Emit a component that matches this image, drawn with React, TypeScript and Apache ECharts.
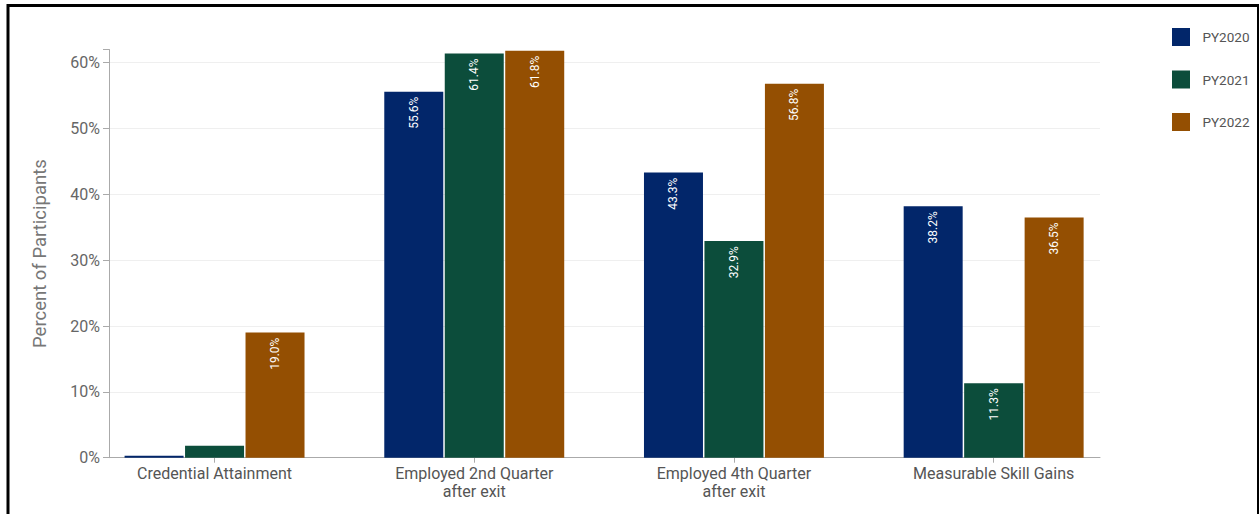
import React, { useEffect, useRef } from "react";
import * as echarts from "echarts";

const categories = [
  "Credential Attainment",
  "Employed 2nd Quarter\nafter exit",
  "Employed 4th Quarter\nafter exit",
  "Measurable Skill Gains",
];
const seriesNames = ["PY2020", "PY2021", "PY2022"];
const py2020 = [0.3, 55.6, 43.3, 38.2];
const py2021 = [1.8, 61.4, 32.9, 11.3];
const py2022 = [19.0, 61.8, 56.8, 36.5];
const colors = ["#02266A", "#0C4D3B", "#944F02"];
const yMax = 62;
const yInterval = 10;

const FONT = "Roboto, 'Noto Sans', sans-serif";

export default function App() {
  const ref = useRef<HTMLDivElement>(null);

  useEffect(() => {
    if (!ref.current) return;
    const chart = echarts.init(ref.current, undefined, { renderer: "svg" });
    const values = [py2020, py2021, py2022];
    const gridTop = 49.5;
    const gridBottom = 56.3;

    chart.setOption({
      animation: false,
      backgroundColor: "#ffffff",
      textStyle: { fontFamily: FONT },
      graphic: [
        {
          type: "rect",
          shape: { x: 8, y: 5.5, width: 1250.5, height: 530 },
          style: { fill: "none", stroke: "#000", lineWidth: 3 },
          silent: true,
          z: 100,
        },
      ],
      legend: {
        orient: "vertical",
        left: 1167,
        top: 23,
        itemWidth: 18,
        itemHeight: 18,
        itemGap: 24.5,
        icon: "rect",
        itemStyle: { borderWidth: 0 },
        textStyle: {
          color: "#555",
          fontSize: 13.5,
          fontFamily: FONT,
          padding: [0, 0, 0, 7.5],
        },
        data: seriesNames,
      },
      grid: [
        { left: 84.7, right: 135.5, top: gridTop, bottom: gridBottom },
        { left: 109, right: 159, top: gridTop, bottom: gridBottom },
      ],
      xAxis: [
        {
          type: "category",
          gridIndex: 0,
          data: categories,
          axisLine: { show: false },
          axisTick: {
            show: true,
            alignWithLabel: true,
            length: 5,
            lineStyle: { color: "#aaa" },
          },
          axisLabel: {
            color: "#555",
            fontSize: 16,
            lineHeight: 18,
            margin: 7,
            fontFamily: FONT,
            interval: 0,
          },
          splitLine: { show: false },
        },
        {
          type: "value",
          gridIndex: 1,
          min: 0,
          max: 1,
          axisLine: { show: true, onZero: false, lineStyle: { color: "#aaa" } },
          axisTick: { show: false },
          axisLabel: { show: false },
          splitLine: { show: false },
        },
      ],
      yAxis: [
        {
          type: "value",
          gridIndex: 0,
          min: 0,
          max: yMax,
          show: false,
          splitLine: { show: false },
        },
        {
          type: "value",
          gridIndex: 1,
          min: 0,
          max: yMax,
          interval: yInterval,
          name: "Percent of Participants",
          nameLocation: "middle",
          nameGap: 60,
          nameTextStyle: { color: "#777", fontSize: 18.5, fontFamily: FONT },
          axisLine: { show: true, lineStyle: { color: "#aaa" } },
          axisTick: { show: true, length: 6, lineStyle: { color: "#aaa" } },
          axisLabel: {
            color: "#666",
            fontSize: 16,
            margin: 9,
            fontFamily: FONT,
            formatter: (v: number) => (v % yInterval === 0 ? `${v}%` : ""),
          },
          splitLine: {
            show: true,
            showMaxLine: false,
            lineStyle: { color: "#efefef" },
          },
        },
      ],
      series: seriesNames.map((name, i) => ({
        name,
        type: "bar",
        xAxisIndex: 0,
        yAxisIndex: 0,
        data: values[i],
        barWidth: 59,
        barGap: "2.5%",
        itemStyle: { color: colors[i] },
        label: {
          show: true,
          position: "insideTop",
          rotate: 90,
          align: "right",
          verticalAlign: "middle",
          distance: 5,
          color: "#fff",
          fontSize: 12,
          fontFamily: FONT,
          formatter: (p: any) => (p.value >= 5 ? `${p.value.toFixed(1)}%` : ""),
        },
      })),
    });

    return () => chart.dispose();
  }, []);

  return (
    <div
      ref={ref}
      style={{
        position: "fixed",
        left: 0,
        top: 0,
        width: 1259,
        height: 514,
        background: "#fff",
      }}
    />
  );
}
